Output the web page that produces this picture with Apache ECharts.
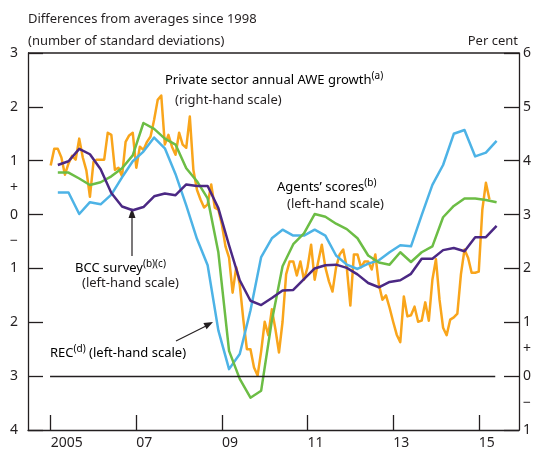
<!DOCTYPE html>
<html>
<head>
<meta charset="utf-8">
<script src="https://cdn.jsdelivr.net/npm/echarts/dist/echarts.min.js"></script>
<style>
  html, body { margin: 0; padding: 0; background: #ffffff; }
  #chart { width: 535px; height: 452px; }
</style>
</head>
<body>
<div id="chart"></div>
<script>
// Private sector annual AWE growth, per cent (right-hand scale), monthly from Jan 2005
const aweGrowth = [
  3.91, 4.22, 4.22, 4.06, 3.74, 3.95, 4.09, 4.02, 4.41, 4.06, 3.82, 3.33,
  3.98, 4.02, 4.02, 4.02, 4.52, 4.48, 3.83, 3.87, 3.71, 4.35, 4.47, 4.52,
  3.87, 4.26, 4.20, 4.35, 4.45, 4.76, 5.13, 5.21, 4.30, 4.48, 4.26, 4.11,
  4.52, 4.30, 4.24, 4.82, 3.83, 3.46, 3.28, 3.13, 3.19, 3.56, 3.13, 3.09,
  2.81, 2.41, 2.20, 1.55, 2.02, 1.70, 1.05, 0.50, 0.50, 0.16, 0.01, 0.46,
  1.01, 0.76, 1.24, 0.87, 0.44, 1.01, 1.89, 2.13, 2.13, 1.87, 2.13, 1.79,
  2.02, 2.44, 1.79, 2.13, 2.44, 2.02, 1.76, 1.57, 2.02, 2.26, 2.35, 2.02,
  1.31, 2.26, 2.26, 2.02, 2.13, 2.13, 1.98, 2.26, 1.70, 1.42, 1.50, 1.27,
  1.01, 0.77, 0.63, 1.48, 1.11, 1.13, 1.29, 1.01, 1.03, 1.37, 1.03, 1.79,
  2.17, 1.42, 0.90, 0.76, 1.05, 1.09, 1.16, 1.89, 2.35, 2.20, 1.92, 1.92,
  1.94, 3.09, 3.59, 3.28
];

// REC (Report on Jobs), quarterly from 2005 Q1, standard deviations from average
const recScores = [
  0.41, 0.41, 0.01, 0.23, 0.19, 0.37, 0.69, 0.99, 1.17, 1.43, 1.23, 0.75,
  0.17, -0.45, -0.94, -2.15, -2.87, -2.59, -1.78, -0.79, -0.44, -0.28, -0.39, -0.39,
  -0.28, -0.39, -0.76, -0.93, -1.01, -0.91, -0.85, -0.70, -0.57, -0.59, -0.01, 0.55,
  0.92, 1.50, 1.57, 1.08, 1.15, 1.37
];

// Agents' scores, quarterly from 2005 Q1
const agentsScores = [
  0.78, 0.78, 0.67, 0.55, 0.60, 0.71, 0.86, 1.10, 1.70, 1.59, 1.41, 1.30,
  0.86, 0.62, 0.30, -0.70, -2.53, -3.05, -3.40, -3.27, -1.97, -0.96, -0.55, -0.35,
  0.01, -0.04, -0.17, -0.27, -0.44, -0.76, -0.89, -0.93, -0.70, -0.88, -0.70, -0.59,
  -0.05, 0.16, 0.30, 0.30, 0.27, 0.23
];

// BCC survey, quarterly from 2005 Q1
const bccSurvey = [
  0.92, 0.99, 1.22, 1.12, 0.84, 0.40, 0.15, 0.08, 0.14, 0.34, 0.39, 0.36,
  0.56, 0.53, 0.53, 0.12, -0.57, -1.22, -1.60, -1.68, -1.55, -1.41, -1.40, -1.20,
  -1.00, -0.94, -0.93, -0.99, -1.11, -1.27, -1.35, -1.25, -1.22, -1.10, -0.82, -0.82,
  -0.66, -0.62, -0.68, -0.42, -0.42, -0.21
];

// Year ticks along the bottom and their printed labels
const yearTicks = [2005, 2007, 2009, 2011, 2013, 2015];
const yearLabels = ['2005', '07', '09', '11', '13', '15'];

// Time positions: months at the start of each month, quarters at their third month
const monthTime = i => 2005 + i / 12;
const quarterTime = i => 2005 + Math.floor(i / 4) + ((i % 4) * 3 + 2) / 12;

const pairs = (vals, timeFn) => vals.map((v, i) => [timeFn(i), v]);

const INK = '#231F20';
const FONT = 'Noto Sans';
const COLORS = { awe: '#F9A51B', rec: '#4DB3E6', agents: '#6CBD45', bcc: '#4B2884' };

const chart = echarts.init(document.getElementById('chart'), null, { renderer: 'canvas' });

const signLabel = v => (v === 0.5 ? '+' : (v === -0.5 ? '\u2212' : ''));
const absLabel = v => (Number.isInteger(v) ? String(Math.abs(v)) : '');

const tickAxis = (pos, min, max) => ({
  type: 'value', position: pos, min: min, max: max, interval: 1,
  axisLine: { show: true, onZero: false, lineStyle: { color: INK, width: 1.3 } },
  axisTick: { show: true, inside: true, length: 15, lineStyle: { color: INK, width: 1.3 } },
  axisLabel: { formatter: absLabel, color: INK, fontSize: 14, fontFamily: FONT, margin: pos === 'left' ? 10 : 4 },
  splitLine: { show: false }
});
const signAxis = (pos, min, max) => ({
  type: 'value', position: pos, min: min, max: max, interval: 0.5,
  axisLine: { show: false, onZero: false }, axisTick: { show: false },
  axisLabel: { formatter: signLabel, color: INK, fontSize: 14, fontFamily: FONT, margin: pos === 'left' ? 10 : 4 },
  splitLine: { show: false }
});

const lineSeries = (name, data, color, yAxisIndex) => ({
  name: name, type: 'line', data: data, yAxisIndex: yAxisIndex,
  showSymbol: false, symbol: 'none', smooth: false,
  lineStyle: { color: color, width: 2.5, join: 'round' },
  emphasis: { disabled: true }, animation: false
});

const textStyle = { fontFamily: FONT, fontSize: 13, fill: INK };
const rich = {
  t: { fontFamily: FONT, fontSize: 13, color: INK, lineHeight: 16, verticalAlign: 'bottom' },
  s: { fontFamily: FONT, fontSize: 10, color: INK, lineHeight: 10, verticalAlign: 'top' }
};
const label = (x, y, text) => ({
  type: 'text', x: x, y: y, silent: true,
  style: { text: text, rich: rich, verticalAlign: 'middle', align: 'left' }
});
const plain = (x, y, text, align) => ({
  type: 'text', x: x, y: y, silent: true,
  style: Object.assign({ text: text, verticalAlign: 'middle', align: align || 'left' }, textStyle)
});

const awe = lineSeries('Private sector annual AWE growth', pairs(aweGrowth, monthTime), COLORS.awe, 2);
awe.markLine = {
  silent: true, symbol: 'none', animation: false,
  label: { show: false },
  lineStyle: { color: INK, width: 1.3, type: 'solid' },
  data: [[{ coord: [2004.985, 0] }, { coord: [2015.385, 0] }]]
};

chart.setOption({
  animation: false,
  grid: { left: 28, right: 16, top: 53, bottom: 22, show: false },
  xAxis: {
    type: 'value', min: 2004.47, max: 2015.94,
    axisLine: { show: true, onZero: false, lineStyle: { color: INK, width: 1.3 } },
    axisTick: { show: true, inside: true, length: 15, customValues: yearTicks, lineStyle: { color: INK, width: 1.3 } },
    axisLabel: {
      customValues: yearTicks, color: INK, fontSize: 14, fontFamily: FONT, margin: 6, align: 'left',
      formatter: v => yearLabels[yearTicks.indexOf(Math.round(v))] || ''
    },
    splitLine: { show: false }
  },
  yAxis: [
    tickAxis('left', -4, 3),
    signAxis('left', -4, 3),
    tickAxis('right', -1, 6),
    signAxis('right', -1, 6)
  ],
  series: [
    awe,
    lineSeries('REC', pairs(recScores, quarterTime), COLORS.rec, 0),
    lineSeries("Agents' scores", pairs(agentsScores, quarterTime), COLORS.agents, 0),
    lineSeries('BCC survey', pairs(bccSurvey, quarterTime), COLORS.bcc, 0)
  ],
  graphic: [
    // top border of the plot box
    { type: 'line', silent: true, shape: { x1: 28, y1: 53, x2: 519, y2: 53 }, style: { stroke: INK, lineWidth: 1.3 } },
    plain(28, 19, 'Differences from averages since 1998'),
    plain(28, 41, '(number of standard deviations)'),
    plain(518, 41, 'Per cent', 'right'),
    label(165, 79, '{t|Private sector annual AWE growth}{s|(a)}'),
    plain(175, 100, '(right-hand scale)'),
    label(277, 186, '{t|Agents\u2019 scores}{s|(b)}'),
    plain(287, 204, '(left-hand scale)'),
    label(75, 267, '{t|BCC survey}{s|(b)(c)}'),
    plain(82, 283, '(left-hand scale)'),
    label(50, 352, '{t|REC}{s|(d)}{t| (left-hand scale)}'),
    // arrow pointing up to the BCC line
    { type: 'line', silent: true, shape: { x1: 132, y1: 256, x2: 132, y2: 216 }, style: { stroke: INK, lineWidth: 1.2 } },
    { type: 'polygon', silent: true, shape: { points: [[132, 208], [128.5, 218], [135.5, 218]] }, style: { fill: INK } },
    // arrow pointing to the REC line
    { type: 'line', silent: true, shape: { x1: 176, y1: 341, x2: 206, y2: 326 }, style: { stroke: INK, lineWidth: 1.2 } },
    { type: 'polygon', silent: true, shape: { points: [[213, 322], [206.6, 329.2], [203.4, 323]] }, style: { fill: INK } }
  ]
});
</script>
</body>
</html>
